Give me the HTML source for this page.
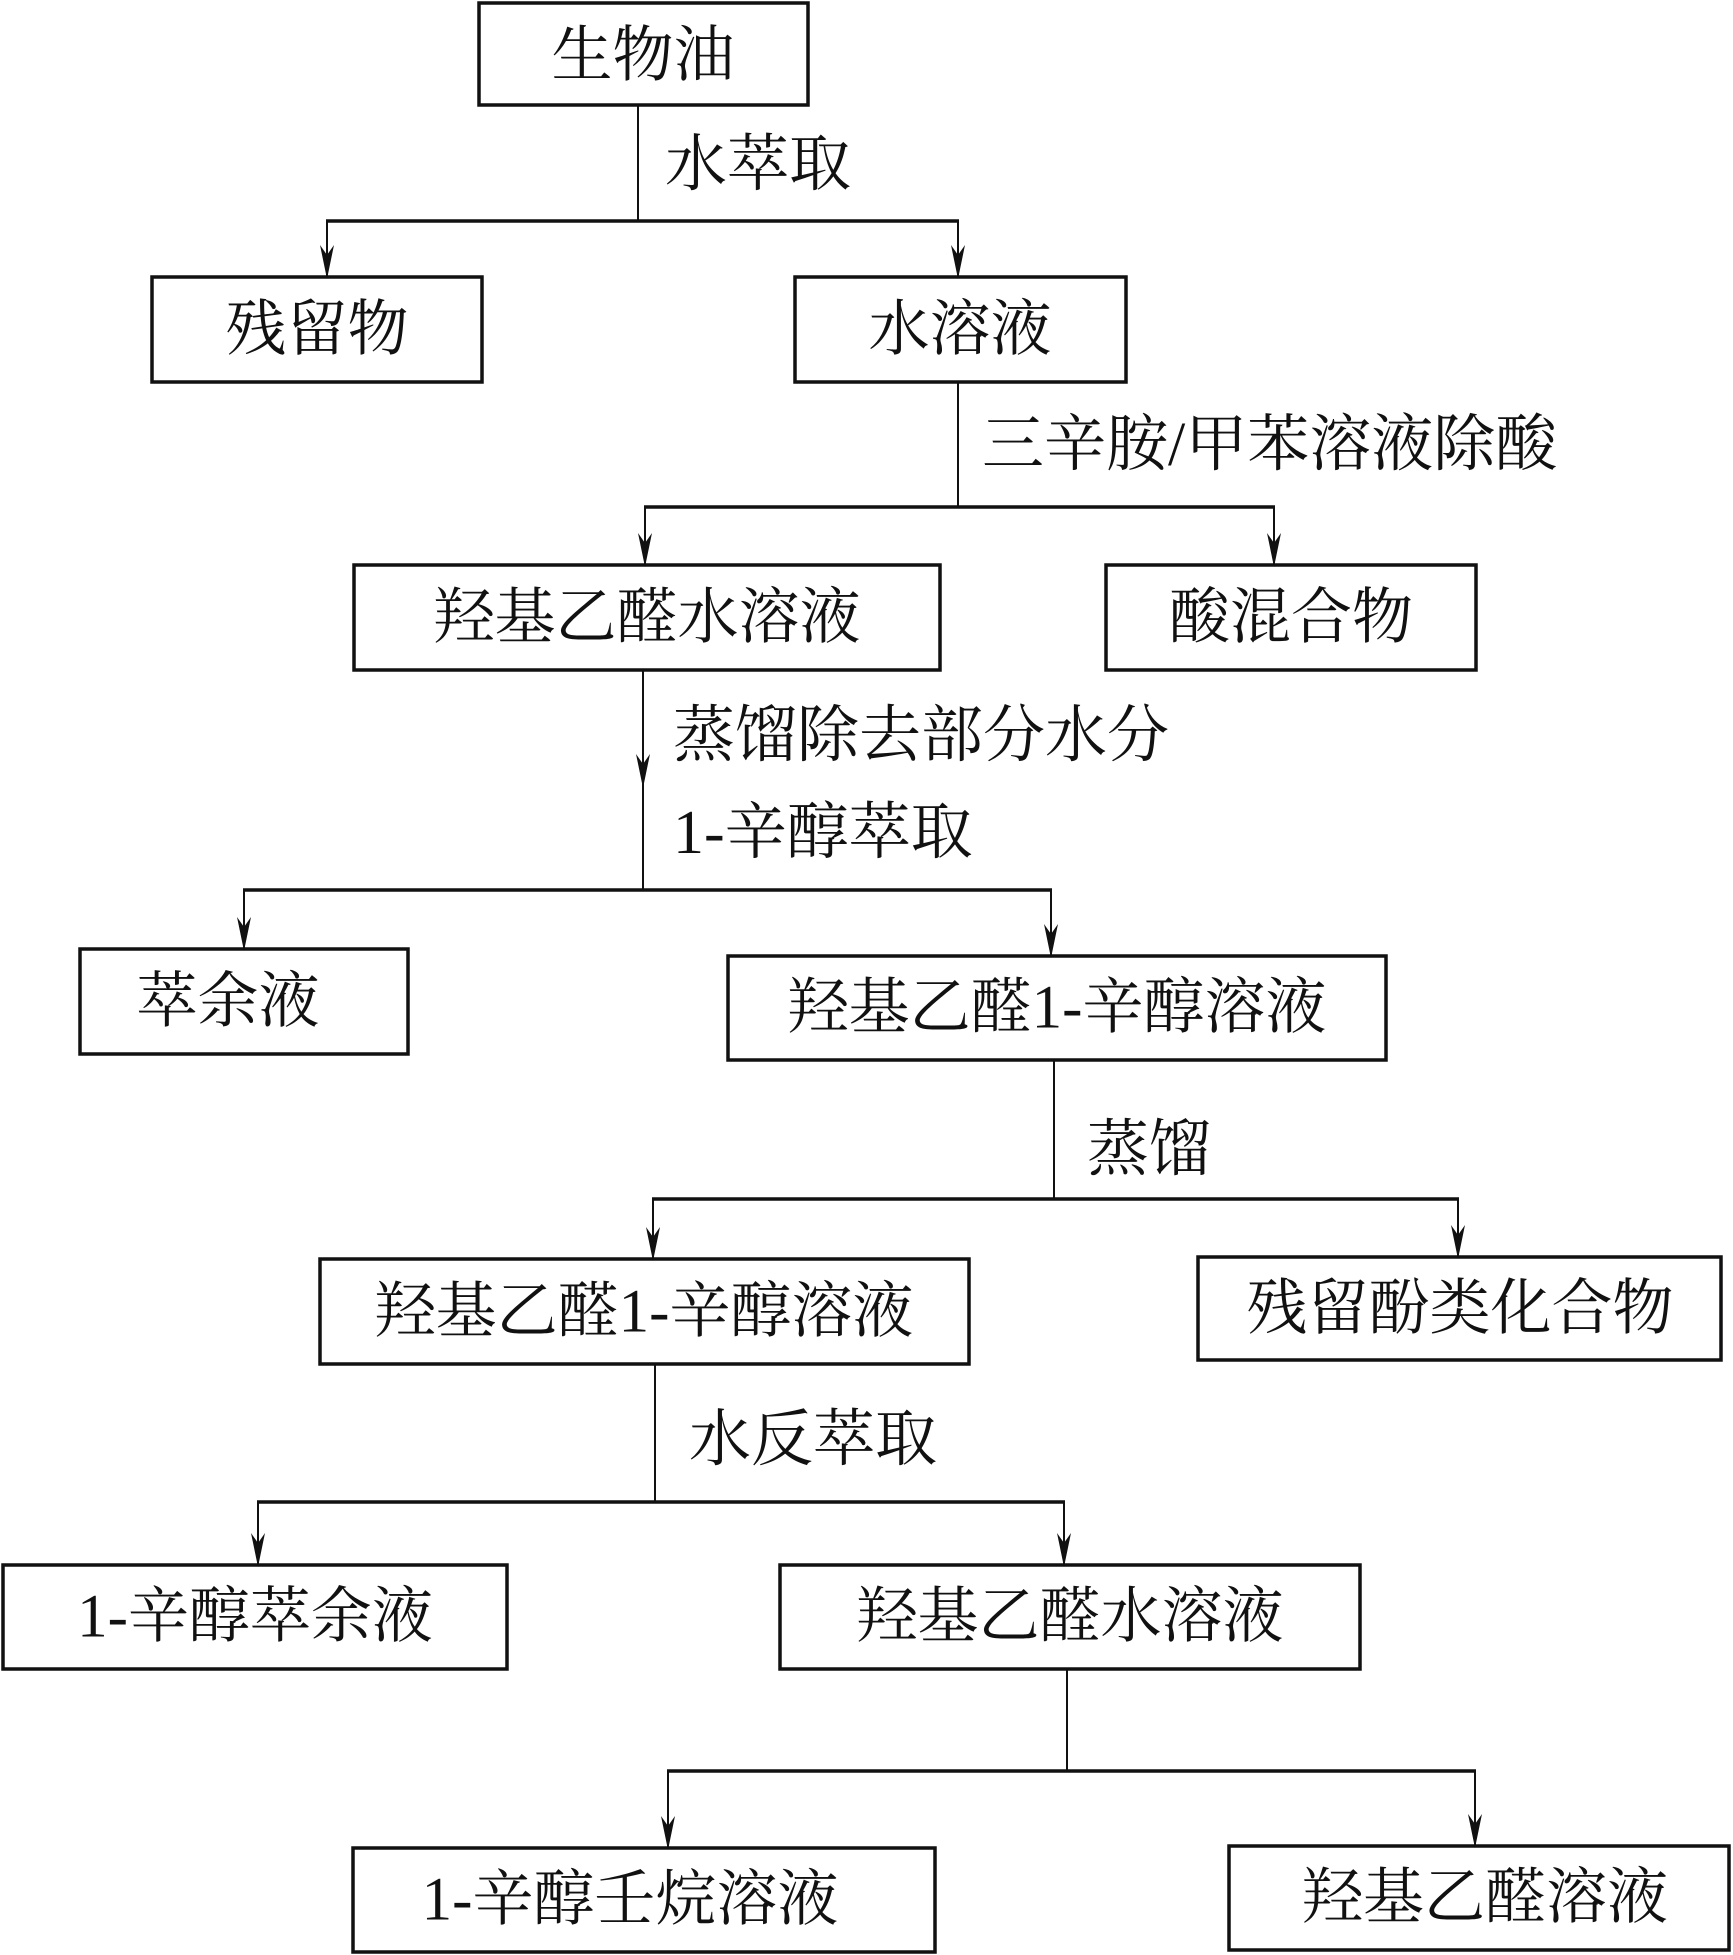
<!DOCTYPE html>
<html><head><meta charset="utf-8"><style>
html,body{margin:0;padding:0;background:#fff;}
svg{display:block;}
text{font-family:"Liberation Serif","Noto Serif CJK SC",serif;fill:#111;}
</style></head><body>
<svg width="1733" height="1955" viewBox="0 0 1733 1955" xmlns="http://www.w3.org/2000/svg">
<defs><marker id="a" markerWidth="34" markerHeight="14" refX="32" refY="7" orient="auto" markerUnits="userSpaceOnUse"><path d="M0,0 L34,7 L0,14 L10,7 Z" fill="#111"/></marker></defs>
<g fill="none" stroke="#111" stroke-width="3.5">
<rect x="479" y="3" width="329" height="102"/>
<rect x="152" y="277" width="330" height="105"/>
<rect x="795" y="277" width="331" height="105"/>
<rect x="354" y="565" width="586" height="105"/>
<rect x="1106" y="565" width="370" height="105"/>
<rect x="80" y="949" width="328" height="105"/>
<rect x="728" y="956" width="658" height="104"/>
<rect x="320" y="1259" width="649" height="105"/>
<rect x="1198" y="1257" width="523" height="103"/>
<rect x="3" y="1565" width="504" height="104"/>
<rect x="780" y="1565" width="580" height="104"/>
<rect x="353" y="1848" width="582" height="104"/>
<rect x="1229" y="1846" width="500" height="104"/>
</g>
<g fill="none" stroke="#111" stroke-width="2">
<line x1="638" y1="105" x2="638" y2="221"/>
<line x1="958" y1="382" x2="958" y2="507"/>
<line x1="643" y1="670" x2="643" y2="786" marker-end="url(#a)"/>
<line x1="643" y1="770" x2="643" y2="890"/>
<line x1="1054" y1="1060" x2="1054" y2="1199"/>
<line x1="655" y1="1364" x2="655" y2="1502"/>
<line x1="1067" y1="1669" x2="1067" y2="1771"/>
<line x1="327" y1="221" x2="327" y2="277" marker-end="url(#a)"/>
<line x1="958" y1="221" x2="958" y2="277" marker-end="url(#a)"/>
<line x1="645" y1="507" x2="645" y2="565" marker-end="url(#a)"/>
<line x1="1274" y1="507" x2="1274" y2="565" marker-end="url(#a)"/>
<line x1="244" y1="890" x2="244" y2="949" marker-end="url(#a)"/>
<line x1="1051" y1="890" x2="1051" y2="956" marker-end="url(#a)"/>
<line x1="653" y1="1199" x2="653" y2="1259" marker-end="url(#a)"/>
<line x1="1458" y1="1199" x2="1458" y2="1257" marker-end="url(#a)"/>
<line x1="258" y1="1502" x2="258" y2="1565" marker-end="url(#a)"/>
<line x1="1064" y1="1502" x2="1064" y2="1565" marker-end="url(#a)"/>
<line x1="668" y1="1771" x2="668" y2="1848" marker-end="url(#a)"/>
<line x1="1475" y1="1771" x2="1475" y2="1846" marker-end="url(#a)"/>
</g>
<g fill="none" stroke="#111" stroke-width="3.5">
<line x1="326" y1="221" x2="959" y2="221"/>
<line x1="644" y1="507" x2="1275" y2="507"/>
<line x1="243" y1="890" x2="1052" y2="890"/>
<line x1="652" y1="1199" x2="1459" y2="1199"/>
<line x1="257" y1="1502" x2="1065" y2="1502"/>
<line x1="667" y1="1771" x2="1476" y2="1771"/>
</g>
<g font-size="61" text-anchor="middle" dominant-baseline="central">
<text x="643" y="56">生物油</text>
<text x="317" y="330">残留物</text>
<text x="960" y="330">水溶液</text>
<text x="647" y="618">羟基乙醛水溶液</text>
<text x="1291" y="618">酸混合物</text>
<text x="228" y="1002">萃余液</text>
<text x="1057" y="1008">羟基乙醛1-辛醇溶液</text>
<text x="644" y="1312">羟基乙醛1-辛醇溶液</text>
<text x="1460" y="1309">残留酚类化合物</text>
<text x="255" y="1617">1-辛醇萃余液</text>
<text x="1070" y="1617">羟基乙醛水溶液</text>
<text x="630" y="1900">1-辛醇壬烷溶液</text>
<text x="1485" y="1898">羟基乙醛溶液</text>
</g>
<g font-size="62" dominant-baseline="central">
<text x="665" y="165">水萃取</text>
<text x="982" y="445">三辛胺/甲苯溶液除酸</text>
<text x="673" y="736">蒸馏除去部分水分</text>
<text x="673" y="833">1-辛醇萃取</text>
<text x="1087" y="1150">蒸馏</text>
<text x="689" y="1440">水反萃取</text>
</g>
</svg>
</body></html>
